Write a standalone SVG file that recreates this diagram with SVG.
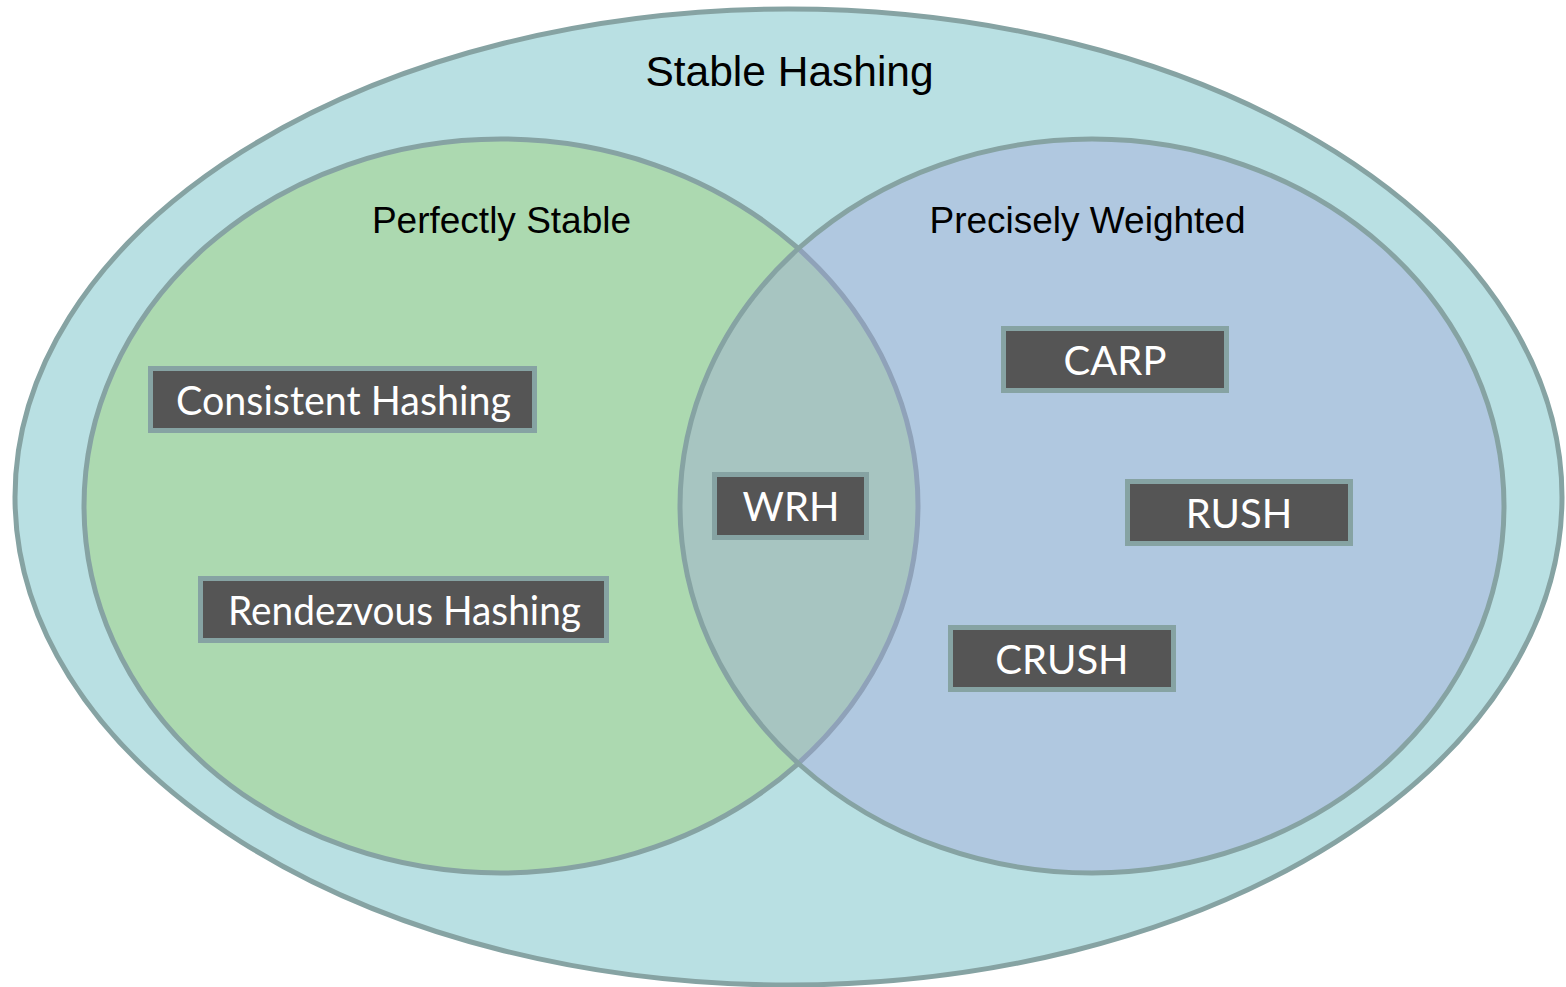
<svg xmlns="http://www.w3.org/2000/svg" width="1566" height="987" viewBox="0 0 1566 987">
<style>
.ring{stroke:#86a3a3;stroke-width:5}
.lbl{font-family:"Liberation Sans",Arial,sans-serif;fill:#000;text-anchor:middle}
.box{fill:#555555;stroke:#86a3a3;stroke-width:5}
.bt{font-family:Lato,"Open Sans",sans-serif;font-size:40px;fill:#fff;text-anchor:middle}
</style>
<defs>
<clipPath id="clipL"><ellipse cx="501" cy="506" rx="417" ry="367"/></clipPath>
<clipPath id="clipR"><ellipse cx="1092" cy="506" rx="412" ry="367"/></clipPath>
</defs>
<g id="stable-hashing">
<ellipse class="ring" cx="788.5" cy="497" rx="773.5" ry="488" fill="#b9e0e3"/>
<text class="lbl" x="789.5" y="86" font-size="42.5">Stable Hashing</text>
</g>
<g id="perfectly-stable">
<ellipse class="ring" cx="501" cy="506" rx="417" ry="367" fill="#acd9b0"/>
<text class="lbl" x="501.5" y="233" font-size="37">Perfectly Stable</text>
</g>
<g id="precisely-weighted">
<ellipse cx="1092" cy="506" rx="412" ry="367" fill="#b0c8e0"/>
<ellipse cx="1092" cy="506" rx="412" ry="367" fill="#a7c5c1" clip-path="url(#clipL)"/>
<ellipse cx="501" cy="506" rx="417" ry="367" fill="none" stroke="#8fa2b9" stroke-width="5" clip-path="url(#clipR)"/>
<ellipse class="ring" cx="1092" cy="506" rx="412" ry="367" fill="none"/>
<text class="lbl" x="1087.5" y="233" font-size="37">Precisely Weighted</text>
</g>
<g id="consistent-hashing">
<rect class="box" x="150.5" y="368.5" width="384" height="62"/>
<text class="bt" x="343.5" y="415" textLength="335" lengthAdjust="spacingAndGlyphs">Consistent Hashing</text>
</g>
<g id="rendezvous-hashing">
<rect class="box" x="200.5" y="578.5" width="406" height="62"/>
<text class="bt" x="404.5" y="625" textLength="353" lengthAdjust="spacingAndGlyphs">Rendezvous Hashing</text>
</g>
<g id="wrh">
<rect class="box" x="714.5" y="474.5" width="152" height="63"/>
<text class="bt" x="791" y="521">WRH</text>
</g>
<g id="carp">
<rect class="box" x="1003.5" y="328.5" width="223" height="62"/>
<text class="bt" x="1115" y="375">CARP</text>
</g>
<g id="rush">
<rect class="box" x="1127.5" y="481.5" width="223" height="62"/>
<text class="bt" x="1239" y="528">RUSH</text>
</g>
<g id="crush">
<rect class="box" x="950.5" y="627.5" width="223" height="62"/>
<text class="bt" x="1062" y="674">CRUSH</text>
</g>
<g id="connectors"/>
</svg>
